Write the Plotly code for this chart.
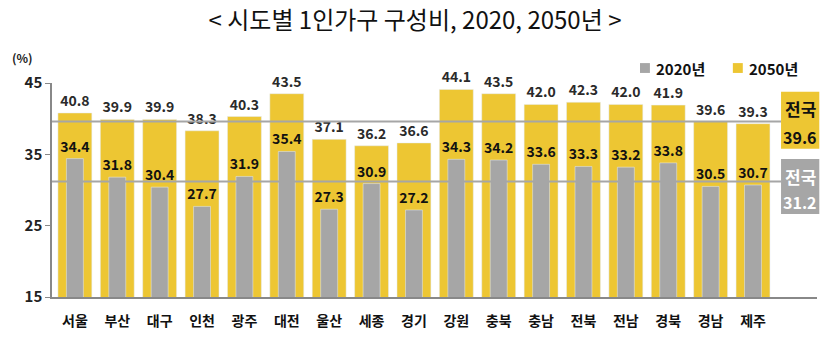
import plotly.graph_objects as go

regions = ["서울", "부산", "대구", "인천", "광주", "대전", "울산", "세종", "경기",
           "강원", "충북", "충남", "전북", "전남", "경북", "경남", "제주"]
v2020 = [34.4, 31.8, 30.4, 27.7, 31.9, 35.4, 27.3, 30.9, 27.2,
         34.3, 34.2, 33.6, 33.3, 33.2, 33.8, 30.5, 30.7]
v2050 = [40.8, 39.9, 39.9, 38.3, 40.3, 43.5, 37.1, 36.2, 36.6,
         44.1, 43.5, 42.0, 42.3, 42.0, 41.9, 39.6, 39.3]
national_2020 = 31.2
national_2050 = 39.6
y_ticks = [15, 25, 35, 45]

YELLOW = "#EDC633"
GRAY = "#A6A6A6"
FONT = "Noto Sans CJK KR"

fig = go.Figure()
fig.add_trace(go.Bar(
    x=regions, y=v2050, name="2050년", marker_color=YELLOW, width=0.8,
    text=[f"{v:.1f}" for v in v2050], textposition="outside",
    textfont=dict(family=FONT, size=14, color="#2a2a2a", weight="bold"),
    cliponaxis=False, constraintext="none", showlegend=False,
))
fig.add_trace(go.Bar(
    x=regions, y=v2020, name="2020년", marker_color=GRAY, width=0.4,
    text=[f"{v:.1f}" for v in v2020], textposition="outside",
    textfont=dict(family=FONT, size=14, color="#111111", weight="bold"),
    cliponaxis=False, constraintext="none", showlegend=False,
))

# national reference lines
for val in (national_2050, national_2020):
    fig.add_shape(type="line", xref="x", yref="y", x0=-0.54, x1=16.66,
                  y0=val, y1=val, line=dict(color=GRAY, width=2), layer="above")

# national boxes
boxes = [(national_2050, YELLOW, "#111111", 0.693, 0.959, 0.883, 0.748),
         (national_2020, GRAY, "white", 0.388, 0.645, 0.565, 0.444)]
for val, fill, tcol, y0, y1, ya, yb in boxes:
    fig.add_shape(type="rect", xref="paper", yref="paper", x0=0.953, x1=1.003,
                  y0=y0, y1=y1, fillcolor=fill, line_width=0)
    fig.add_annotation(xref="paper", yref="paper", x=0.978, y=ya,
                       xanchor="center", yanchor="middle", text="<b>전국</b>",
                       showarrow=False, font=dict(family=FONT, size=17, color=tcol))
    fig.add_annotation(xref="paper", yref="paper", x=0.978, y=yb,
                       xanchor="center", yanchor="middle", text=f"<b>{val:.1f}</b>",
                       showarrow=False, font=dict(family=FONT, size=16, color=tcol))

# manual legend
legend_items = [("2020년", GRAY, 0.7686), ("2050년", YELLOW, 0.890)]
for name, col, x0 in legend_items:
    fig.add_shape(type="rect", xref="paper", yref="paper", x0=x0, x1=x0 + 0.013,
                  y0=1.047, y1=1.093, fillcolor=col, line_width=0)
    fig.add_annotation(xref="paper", yref="paper", x=x0 + 0.018, y=1.070,
                       xanchor="left", yanchor="middle", text=f"<b>{name}</b>",
                       showarrow=False, font=dict(family=FONT, size=15, color="#111111"))

# (%) label
fig.add_annotation(xref="paper", yref="paper", x=-0.039, y=1.117,
                   xanchor="center", yanchor="middle",
                   text="<b>(%)</b>", showarrow=False,
                   font=dict(family=FONT, size=12, color="#222222"))

fig.update_layout(
    width=830, height=351,
    margin=dict(l=52, r=13, t=83, b=54),
    paper_bgcolor="white", plot_bgcolor="white",
    barmode="overlay",
    title=dict(text="< 시도별 1인가구 구성비, 2020, 2050년 >", x=0.5, xanchor="center",
               y=0.94, yanchor="middle",
               font=dict(family=FONT, size=24, color="#111111")),
    showlegend=False,
    xaxis=dict(range=[-0.54, 17.51], showgrid=False, showline=True,
               linecolor="#888888", linewidth=1.5, ticks="",
               ticklabelstandoff=10,
               tickfont=dict(family=FONT, size=14, color="#111111", weight="bold"),
               fixedrange=True),
    yaxis=dict(range=[15, 45], tickvals=y_ticks, showgrid=False, showline=True,
               linecolor="#888888", linewidth=1.5, ticks="outside", ticklen=5,
               tickcolor="#888888",
               tickfont=dict(family=FONT, size=15, color="#222222", weight="bold"),
               zeroline=False),
)

fig.write_html("out.html")
